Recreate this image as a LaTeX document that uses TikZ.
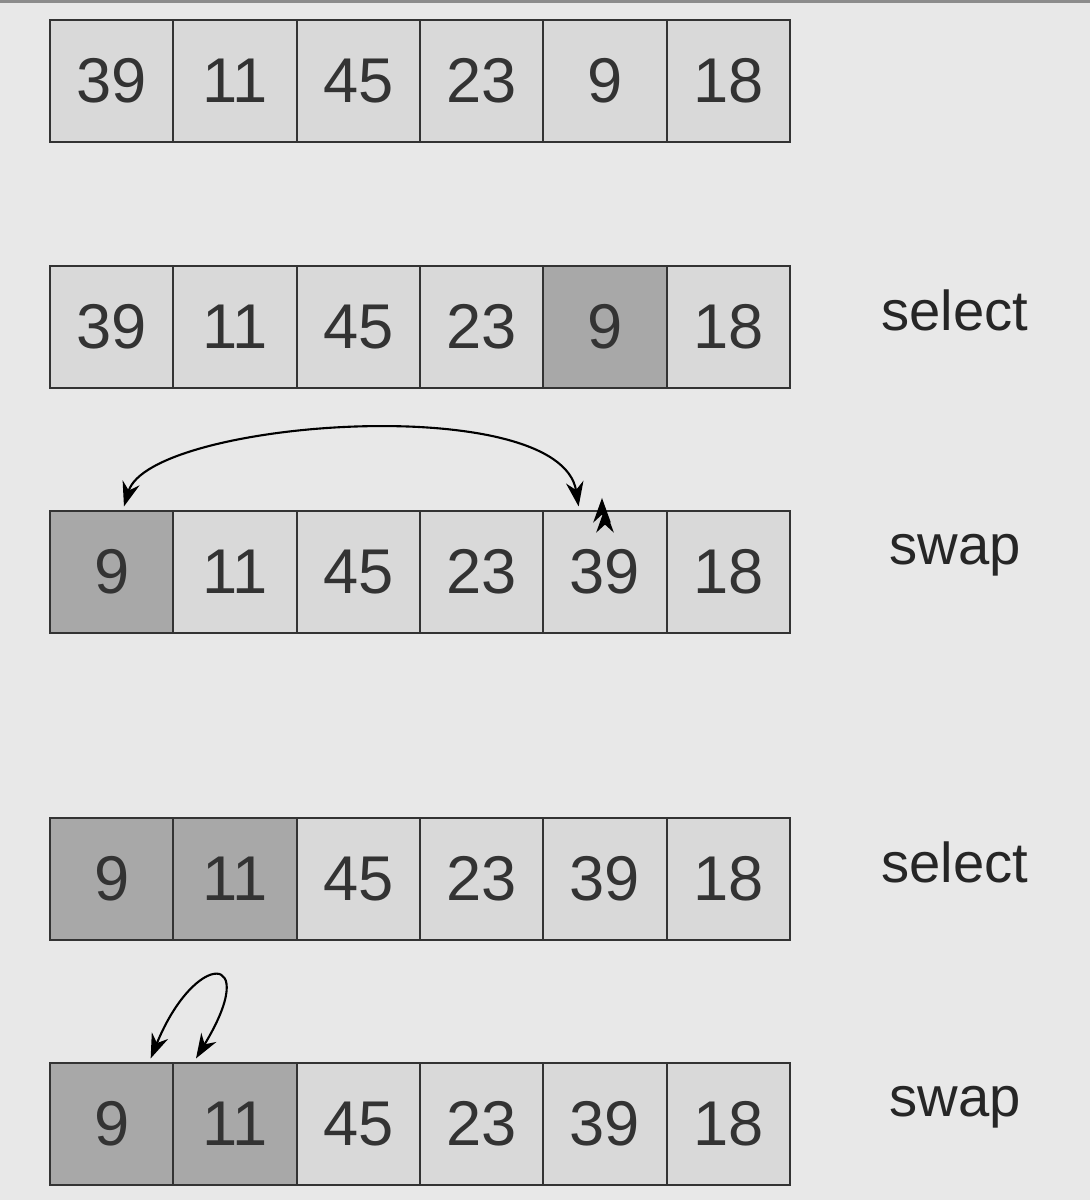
\documentclass[tikz,border=0pt]{standalone}
\usepackage{fontspec}
\setmainfont{Liberation Sans}
\usetikzlibrary{arrows.meta}
\definecolor{bg}{HTML}{E8E8E8}
\definecolor{lite}{HTML}{D9D9D9}
\definecolor{dark}{HTML}{A8A8A8}
\definecolor{edge}{HTML}{333333}
\begin{document}
\begin{tikzpicture}[x=0.02cm,y=-0.02cm,
  cell/.style={draw=edge,line width=1.2pt,fill=lite,minimum width=2.466cm,minimum height=2.44cm,inner sep=0,font=\fontsize{36}{40}\selectfont,text=black!80},
  hi/.style={cell,fill=dark},
  lab/.style={font=\fontsize{32}{36}\selectfont,text=black!85},
  arr/.style={-{Stealth[length=14pt,width=10pt]},line width=1.2pt}]
\fill[bg] (0,0) rectangle (1090,1200);
\fill[black!45] (0,0) rectangle (1090,3);
\foreach \r/\y/\vals/\hl in {1/81/{39,11,45,23,9,18}/{},2/327/{39,11,45,23,9,18}/{5},3/572/{9,11,45,23,39,18}/{1},4/879/{9,11,45,23,39,18}/{1,2},5/1124/{9,11,45,23,39,18}/{1,2}}{
  \foreach \v [count=\i] in \vals {
    \def\st{cell}
    \foreach \h in \hl {\ifnum\h=\i\gdef\st{hi}\fi}
    \node[\st] (r\r c\i) at ({50+61.67+123.33*(\i-1)},\y) {\v};
    \gdef\st{cell}
  }
}
\node[lab] (l2) at (955,310) {select};
\node[lab] (l3) at (955,555) {swap};
\node[lab] (l4) at (955,862) {select};
\node[lab] (l5) at (955,1107) {swap};
\draw[arr] (r3c5.north) ++(0,-2) coordinate (a1);
\coordinate (b1) at ([xshift=7pt,yshift=2pt]r3c1.north);
\draw[arr] (a1) ++(-3,-10) coordinate(a2);
\draw[arr,{Stealth[length=14pt,width=10pt]}-{Stealth[length=14pt,width=10pt]}] ([xshift=7pt,yshift=2pt]r3c1.north) .. controls (150,420) and (560,390) .. ([xshift=-15pt,yshift=2pt]r3c5.north);
\draw[arr,{Stealth[length=14pt,width=10pt]}-{Stealth[length=14pt,width=10pt]}] ([xshift=-48pt,yshift=2pt]r5c2.north) .. controls (195,950) and (262,950) .. ([xshift=48pt,yshift=2pt]r5c1.north);
\end{tikzpicture}
\end{document}
